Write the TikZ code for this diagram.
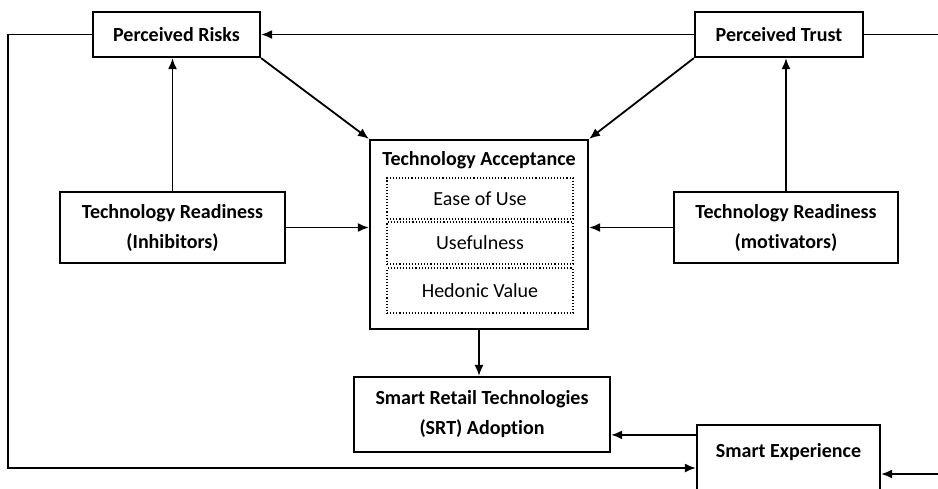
\documentclass[tikz,border=0pt]{standalone}
\usepackage{fontspec}
\setmainfont{Carlito}[Ligatures=NoCommon]
\usetikzlibrary{positioning, arrows.meta}

\begin{document}
\begin{tikzpicture}[
        x=1pt, y=-1pt,
        >={Latex[length=11pt, width=9pt]},
        every node/.style={font=\fontsize{20}{30}\selectfont},
        box/.style={draw, rectangle, line width=2.2pt, inner sep=0pt, align=center, font=\fontsize{20}{30}\selectfont\bfseries},
        subbox/.style={draw, rectangle, dotted, line width=1.1pt, inner sep=0pt, minimum width=186pt},
        link/.style={->, line width=1.8pt}
    ]

    \useasboundingbox (0,0) rectangle (938,488);

    \node[box, minimum width=167pt, minimum height=45pt] (risks) at (176.5,34.5) {Perceived Risks};
    \node[box, minimum width=168pt, minimum height=45pt] (trust) at (779,34.5) {Perceived Trust};

    \node[box, minimum width=225pt, minimum height=71pt] (inhib) at (172.5,227.5) {Technology Readiness \\ (Inhibitors)};
    \node[box, minimum width=224pt, minimum height=71pt] (motiv) at (786,227.5) {Technology Readiness \\ (motivators)};

    \node[box, minimum width=218pt, minimum height=189pt] (accept) at (479,234.5) {};
    \node[font=\fontsize{20}{30}\selectfont\bfseries] (acctitle) at (479,160) {Technology Acceptance};
    \node[subbox, minimum height=41pt] (ease) at (480,198.5) {Ease of Use};
    \node[subbox, minimum height=42pt] (useful) at (480,243) {Usefulness};
    \node[subbox, minimum height=45pt] (hedonic) at (480,290.5) {Hedonic Value};

    \node[box, minimum width=256pt, minimum height=75pt] (srt) at (482,414.5) {Smart Retail Technologies \\ (SRT) Adoption};
    \node[box, minimum width=183pt, minimum height=70pt, text height=12pt, text depth=18pt] (smart) at (788.5,460) {Smart Experience};

    % outer loops
    \coordinate (lft) at (8,468);
    \coordinate (rgt) at (945,474);

    \draw[link] (trust.west) -- (risks.east);
    \draw[link] (inhib.north) -- (inhib.north |- risks.south);
    \draw[link] (motiv.north) -- (motiv.north |- trust.south);
    \draw[link] (risks.south east) -- (accept.north west);
    \draw[link] (trust.south west) -- (accept.north east);
    \draw[link] (inhib.east) -- (inhib.east -| accept.west);
    \draw[link] (motiv.west) -- (motiv.west -| accept.east);
    \draw[link] (accept.south) -- (accept.south |- srt.north);
    \draw[link] ([yshift=-11pt]smart.north west) -- ([yshift=-11pt]smart.north west -| srt.east);

    \draw[link] (risks.west) -| (lft) -- (lft -| smart.west);
    \draw[link] (trust.east) -| (rgt) -- (rgt -| smart.east);

\end{tikzpicture}
\end{document}
